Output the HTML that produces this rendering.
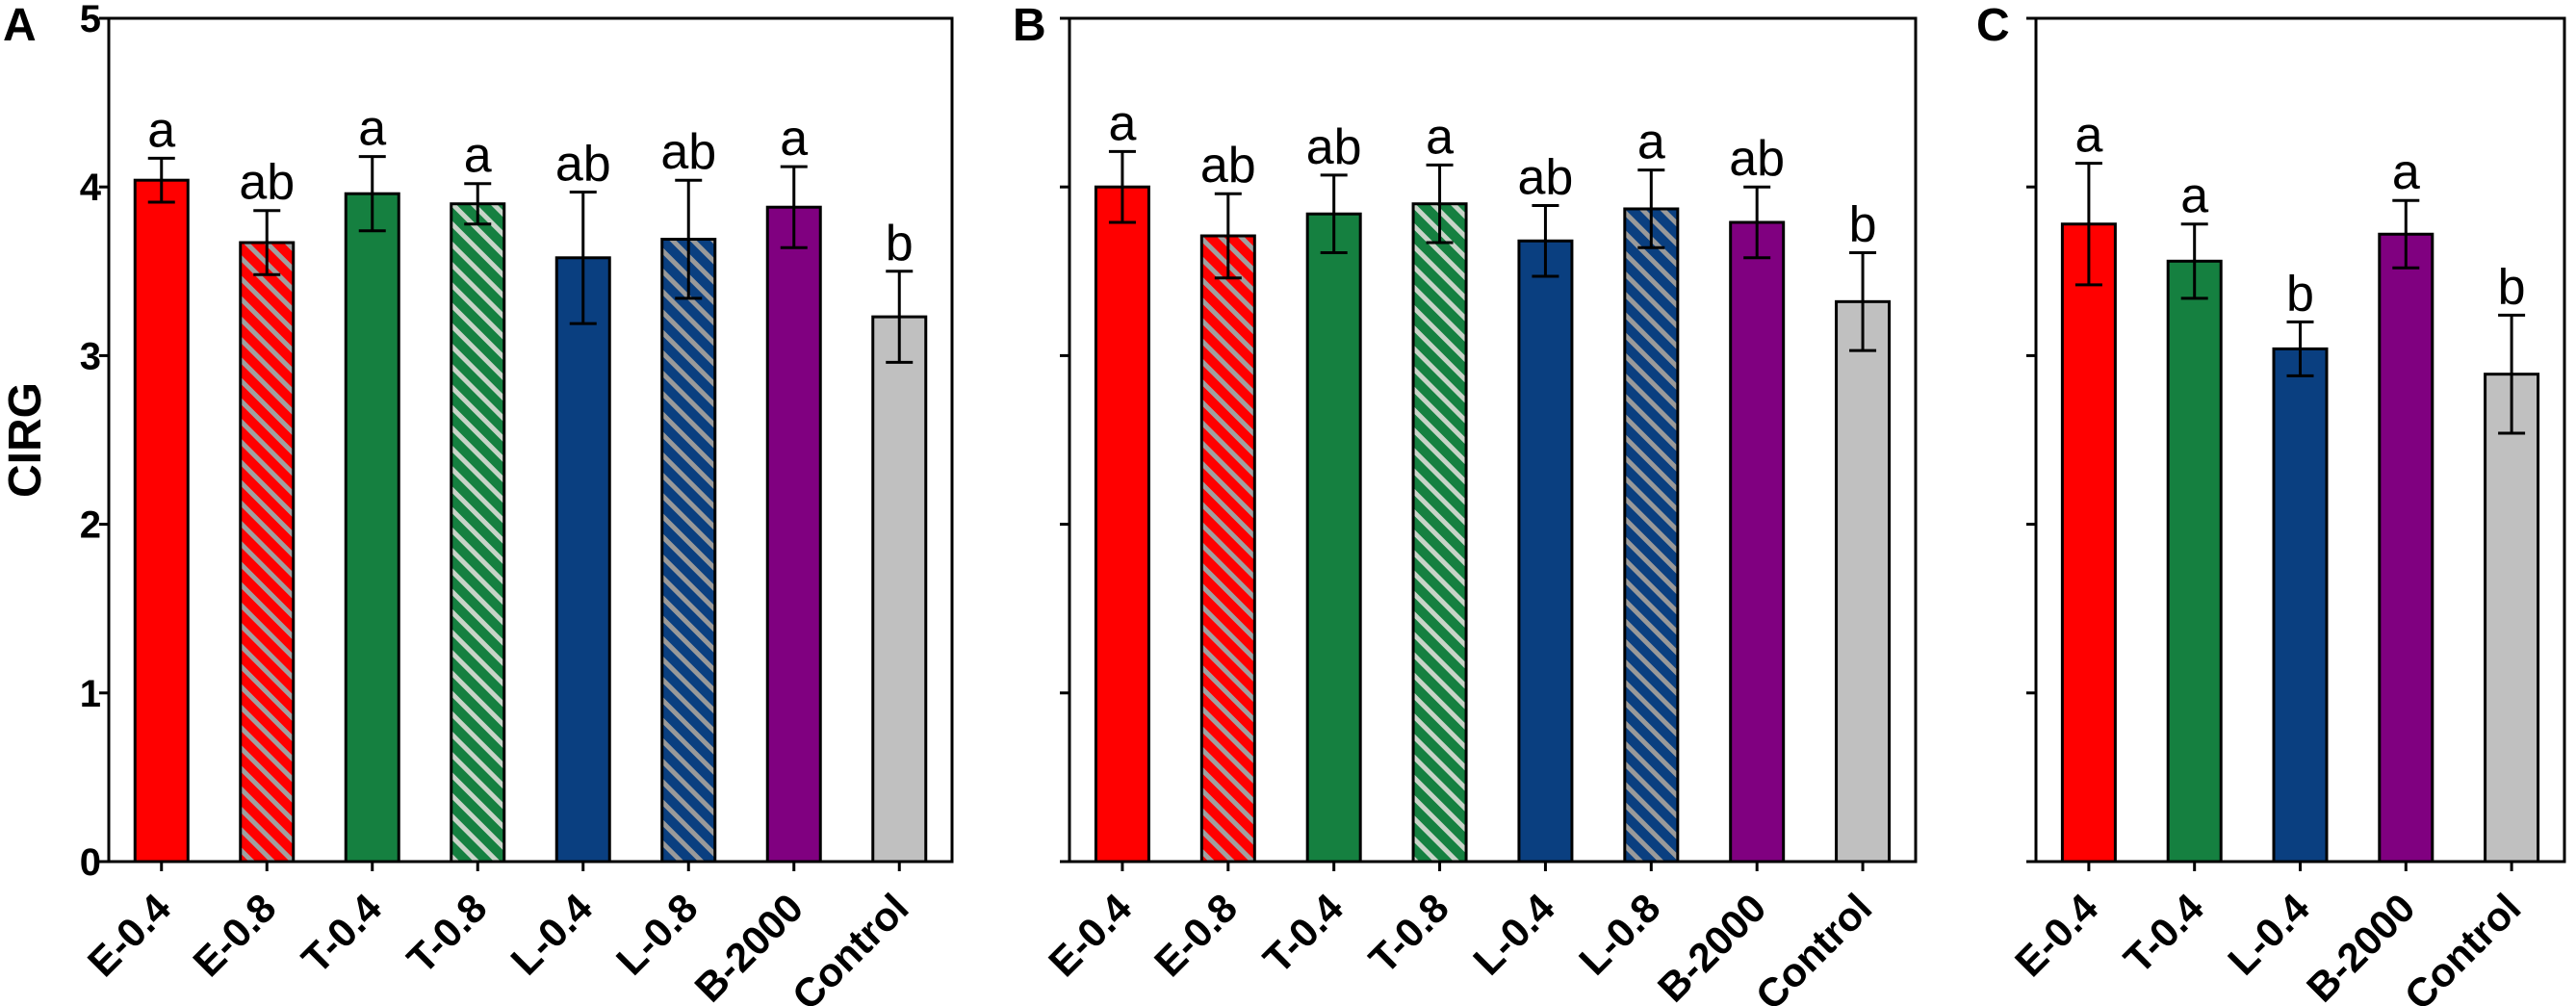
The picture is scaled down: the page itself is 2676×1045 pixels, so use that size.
<!DOCTYPE html>
<html><head><meta charset="utf-8">
<style>
html,body{margin:0;padding:0;background:#fff;}
svg{display:block;font-family:"Liberation Sans",Arial,sans-serif;}
</style></head>
<body>
<svg id="chart" width="2676" height="1045" viewBox="0 0 2676 1045" xmlns="http://www.w3.org/2000/svg">
<defs>
<pattern id="hatch-red" patternUnits="userSpaceOnUse" width="15" height="15" patternTransform="rotate(-45)">
<rect width="15" height="15" fill="#ff0000"/><rect width="5" height="15" fill="#a0a0a0"/></pattern>
<pattern id="hatch-green" patternUnits="userSpaceOnUse" width="15" height="15" patternTransform="rotate(-45)">
<rect width="15" height="15" fill="#158040"/><rect width="5" height="15" fill="#c8d4c8"/></pattern>
<pattern id="hatch-blue" patternUnits="userSpaceOnUse" width="15" height="15" patternTransform="rotate(-45)">
<rect width="15" height="15" fill="#0a3f80"/><rect width="5" height="15" fill="#9a9a9a"/></pattern>
</defs>
</svg>
<script>
// Panel A data
const catsA = ["E-0.4","E-0.8","T-0.4","T-0.8","L-0.4","L-0.8","B-2000","Control"];
const valsA = [4.04,3.67,3.96,3.90,3.58,3.69,3.88,3.23];
const errsA = [0.13,0.19,0.22,0.12,0.39,0.35,0.24,0.27];
const letA = ["a","ab","a","a","ab","ab","a","b"];
// Panel B data
const catsB = ["E-0.4","E-0.8","T-0.4","T-0.8","L-0.4","L-0.8","B-2000","Control"];
const valsB = [4.00,3.71,3.84,3.90,3.68,3.87,3.79,3.32];
const errsB = [0.21,0.25,0.23,0.23,0.21,0.23,0.21,0.29];
const letB = ["a","ab","ab","a","ab","a","ab","b"];
// Panel C data
const catsC = ["E-0.4","T-0.4","L-0.4","B-2000","Control"];
const valsC = [3.78,3.56,3.04,3.72,2.89];
const errsC = [0.36,0.22,0.16,0.20,0.35];
const letC = ["a","a","b","a","b"];
const yTicks = [0,1,2,3,4,5];

const fills = {"E-0.4":"#ff0000","E-0.8":"url(#hatch-red)","T-0.4":"#158040","T-0.8":"url(#hatch-green)",
 "L-0.4":"#0a3f80","L-0.8":"url(#hatch-blue)","B-2000":"#800080","Control":"#c0c0c0"};

const NS="http://www.w3.org/2000/svg";
const svg=document.getElementById('chart');
const TOP=19, BOT=895, YMAX=5;
function yScale(v){return BOT-(v/YMAX)*(BOT-TOP);}
function mk(tag,attrs,parent){const e=document.createElementNS(NS,tag);for(const k in attrs)e.setAttribute(k,attrs[k]);(parent||svg).appendChild(e);return e;}

function panel(id,letter,x0,x1,cats,vals,errs,lets,showLabels){
  const g=mk('g',{});
  
  
  const n=cats.length, step=(x1-x0)/n;
  function xScale(i){return x0+step*(i+0.5);}
  const bw=55;
  for(let i=0;i<n;i++){
    const cx=xScale(i), yv=yScale(vals[i]);
    const bar=mk('rect',{x:cx-bw/2,y:yv,width:bw,height:BOT-yv,fill:fills[cats[i]],stroke:'#000','stroke-width':3},g);
    
    
    const yt=yScale(vals[i]+errs[i]), yb=yScale(vals[i]-errs[i]);
    const eb=mk('path',{d:`M${cx},${yt}V${yb}M${cx-14},${yt}H${cx+14}M${cx-14},${yb}H${cx+14}`,stroke:'#000','stroke-width':3,fill:'none'},g);
    
    
    const lt=mk('text',{x:cx,y:yt-12,'text-anchor':'middle','font-size':52,fill:'#000'},g);
    lt.textContent=lets[i];
    
    
    mk('line',{x1:cx,y1:BOT,x2:cx,y2:BOT+10,stroke:'#000','stroke-width':3},g);
    const xl=mk('text',{x:0,y:0,'text-anchor':'end','font-size':42,'font-weight':'bold',fill:'#000',transform:`translate(${cx+12},${946}) rotate(-45)`},g);
    xl.textContent=cats[i];
    
    
  }
  for(const t of yTicks){
    const y=yScale(t);
    mk('line',{x1:x0-10,y1:y,x2:x0,y2:y,stroke:'#000','stroke-width':3},g);
    if(showLabels){
      const tl=mk('text',{x:x0-8,y:y+14,'text-anchor':'end','font-size':40,'font-weight':'bold',fill:'#000'},g);
      tl.textContent=t;
      
      
    }
  }
  const frame=mk('rect',{x:x0,y:TOP,width:x1-x0,height:BOT-TOP,fill:'none',stroke:'#000','stroke-width':3},g);
  
  
  const pl=mk('text',{x:letter.x,y:42,'font-size':48,'font-weight':'bold',fill:'#000'},g);
  pl.textContent=letter.t;
  
  
}
panel('a',{t:'A',x:3},113,989,catsA,valsA,errsA,letA,true);
panel('b',{t:'B',x:1052},1111,1990,catsB,valsB,errsB,letB,false);
panel('c',{t:'C',x:2053},2115,2664,catsC,valsC,errsC,letC,false);

const yt=mk('text',{x:0,y:0,'text-anchor':'middle','font-size':48,'font-weight':'bold',fill:'#000',transform:'translate(42,457) rotate(-90)'});
yt.textContent='CIRG';


</script>
</body></html>
